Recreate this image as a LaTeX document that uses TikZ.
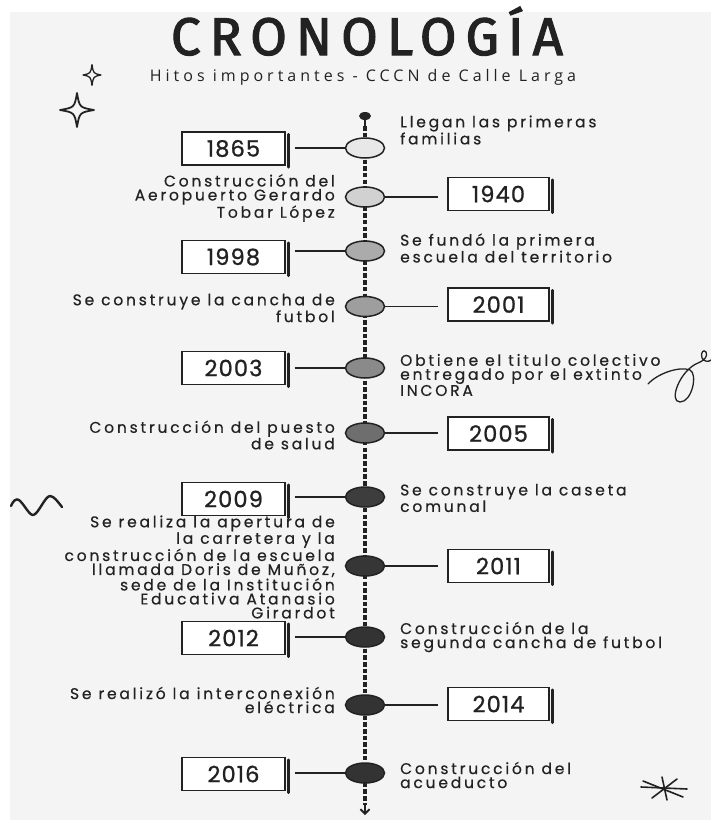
\documentclass[tikz,border=0pt]{standalone}
\usepackage{fontspec}
\usetikzlibrary{shapes.geometric,arrows.meta}
\setmainfont{Poppins}
\newfontfamily\bodyfont{Poppins}[LetterSpace=18,FakeBold=0.5]
\newfontfamily\yearfont{Poppins}[LetterSpace=5,FakeBold=1.0]
\newfontfamily\titlefont{Fira Sans}[LetterSpace=17,FakeBold=2.2]
\newfontfamily\subfont{Open Sans}[LetterSpace=25]
\definecolor{ink}{HTML}{222222}
\definecolor{bgc}{HTML}{F4F4F4}

\newcommand\evtLeft[7]{% box on the left, text on the right
  \node[dot, fill=#4] (c#1) at (365,#3) {};
  \node[yearbox, minimum width=103] (b#1) at (233.5,#5) {#2};
  \draw[shadowline] ([xshift=2.6pt,yshift=-3pt]b#1.north east) -- ([xshift=2.6pt,yshift=-1.5pt]b#1.south east);
  \draw[conn, shorten <=9pt] (b#1.east |- c#1) -- (c#1.west);
  \node[txt, anchor=west, align=left] (t#1) at (400,#6) {#7};
}
\newcommand\evtRight[7]{% box on the right, text on the left
  \node[dot, fill=#4] (c#1) at (365,#3) {};
  \node[yearbox, minimum width=101] (b#1) at (498.5,#5) {#2};
  \draw[shadowline] ([xshift=2.6pt,yshift=-3pt]b#1.north east) -- ([xshift=2.6pt,yshift=-1.5pt]b#1.south east);
  \draw[conn, shorten >=9pt] (c#1.east) -- (b#1.west |- c#1);
  \node[txt, anchor=east, align=right] (t#1) at (335,#6) {#7};
}

\begin{document}
\begin{tikzpicture}[x=1pt,y=-1pt,
  dot/.style={ellipse, draw=ink, line width=1.5pt, minimum width=39pt, minimum height=20pt, inner sep=0pt},
  yearbox/.style={rectangle, draw=ink, fill=white, line width=1.4pt, minimum height=33pt, inner sep=0pt,
     font=\yearfont\fontsize{22.5}{22.5}\selectfont, text=ink},
  shadowline/.style={draw=ink, line width=2.6pt, line cap=round},
  conn/.style={draw=ink, line width=1.5pt},
  txt/.style={font=\bodyfont\fontsize{15.5}{14}\selectfont, text=ink, inner sep=0pt},
  deco/.style={draw=ink, line width=1.6pt, line cap=round, line join=round}]
\useasboundingbox (0,0) rectangle (711,820);
\fill[white] (0,0) rectangle (711,820);
\fill[bgc] (10,12) rectangle (711,820);

% header
\node[font=\titlefont\fontsize{53}{53}\selectfont, text=ink, anchor=base, inner sep=0pt] (title) at (367,55) {CRONOLOGÍA};
\node[font=\subfont\fontsize{16}{16}\selectfont, text=ink, anchor=base, inner sep=0pt] (sub) at (363,81) {Hitos importantes - CCCN de Calle Larga};

% timeline
\node[ellipse, fill=ink, minimum width=12pt, minimum height=8pt, inner sep=0pt] (top) at (365,116) {};
\coordinate (topend) at (365,126);
\coordinate (bot) at (365,805);
\coordinate (tip) at (365,815);
\draw[ink, line width=2pt] (top) -- (topend);
\draw[ink, line width=3.2pt, dash pattern=on 4.5pt off 2.2pt] (topend) -- (bot);
\draw[ink, line width=1.8pt, -{Straight Barb[length=4.5pt,width=9pt]}] (bot) -- (tip);

% events
\evtLeft{a}{1865}{148}{black!9}{148.5}{130}{Llegan las primeras\\familias}
\evtRight{b}{1940}{197}{black!18}{194}{198}{Construcción del\\Aeropuerto Gerardo\\Tobar López}
\evtLeft{c}{1998}{251}{black!33}{257}{248}{Se fundó la primera\\escuela del territorio}
\evtRight{d}{2001}{306.5}{black!38}{304.5}{308}{Se construye la cancha de\\futbol}
\evtLeft{e}{2003}{368}{black!46}{368}{375}{Obtiene el titulo colectivo\\entregado por el extinto\\INCORA}
\evtRight{f}{2005}{433}{black!57}{433.5}{435}{Construcción del puesto\\de salud}
\evtLeft{g}{2009}{497}{black!76}{499}{498}{Se construye la caseta\\comunal}
\evtRight{h}{2011}{566}{black!79}{566}{567}{Se realiza la apertura de\\la carretera y la\\construcción de la escuela\\llamada Doris de Muñoz,\\sede de la Institución\\Educativa Atanasio\\Girardot}
\evtLeft{i}{2012}{637}{black!80}{638}{637}{Construcción de la\\segunda cancha de futbol}
\evtRight{j}{2014}{705}{black!80}{704}{700}{Se realizó la interconexión\\eléctrica}
\evtLeft{k}{2016}{773}{black!80}{774}{775}{Construcción del\\acueducto}

% decorations
\begin{scope}[shift={(92,75)}, x=9pt, y=-10.5pt]
  \draw[deco, line width=1.3pt] (0,-1) .. controls (0.15,-0.15) .. (1,0) .. controls (0.15,0.15) .. (0,1) .. controls (-0.15,0.15) .. (-1,0) .. controls (-0.15,-0.15) .. cycle;
\end{scope}
\begin{scope}[shift={(77,110)}, x=17pt, y=-17pt]
  \draw[deco, line width=1.8pt] (0,-1) .. controls (0.15,-0.15) .. (1,0) .. controls (0.15,0.15) .. (0,1) .. controls (-0.15,0.15) .. (-1,0) .. controls (-0.15,-0.15) .. cycle;
\end{scope}
\draw[deco, line width=2.4pt] (11,506) .. controls (13,501) and (16,498) .. (19,500) .. controls (24,504) and (29,515) .. (33,515) .. controls (38,515) and (45,496) .. (50,496) .. controls (54,496) and (58,502) .. (62,507);
\draw[deco, line width=1.3pt] (648,384) .. controls (658,373) and (680,366) .. (690,370) .. controls (698,374) and (692,402) .. (680,402) .. controls (668,402) and (680,370) .. (698,363) .. controls (705,360) and (708,356) .. (706,352) .. controls (704,349) and (700,352) .. (702,358) .. controls (704,362) and (709,362) .. (711,360);
\draw[deco, line width=1.6pt] (641,787) -- (687,789);
\draw[deco, line width=1.6pt] (643,781) -- (683,797);
\draw[deco, line width=1.6pt] (652,798) -- (677,779);
\draw[deco, line width=1.6pt] (662,777) -- (667,800);
\end{tikzpicture}
\end{document}
